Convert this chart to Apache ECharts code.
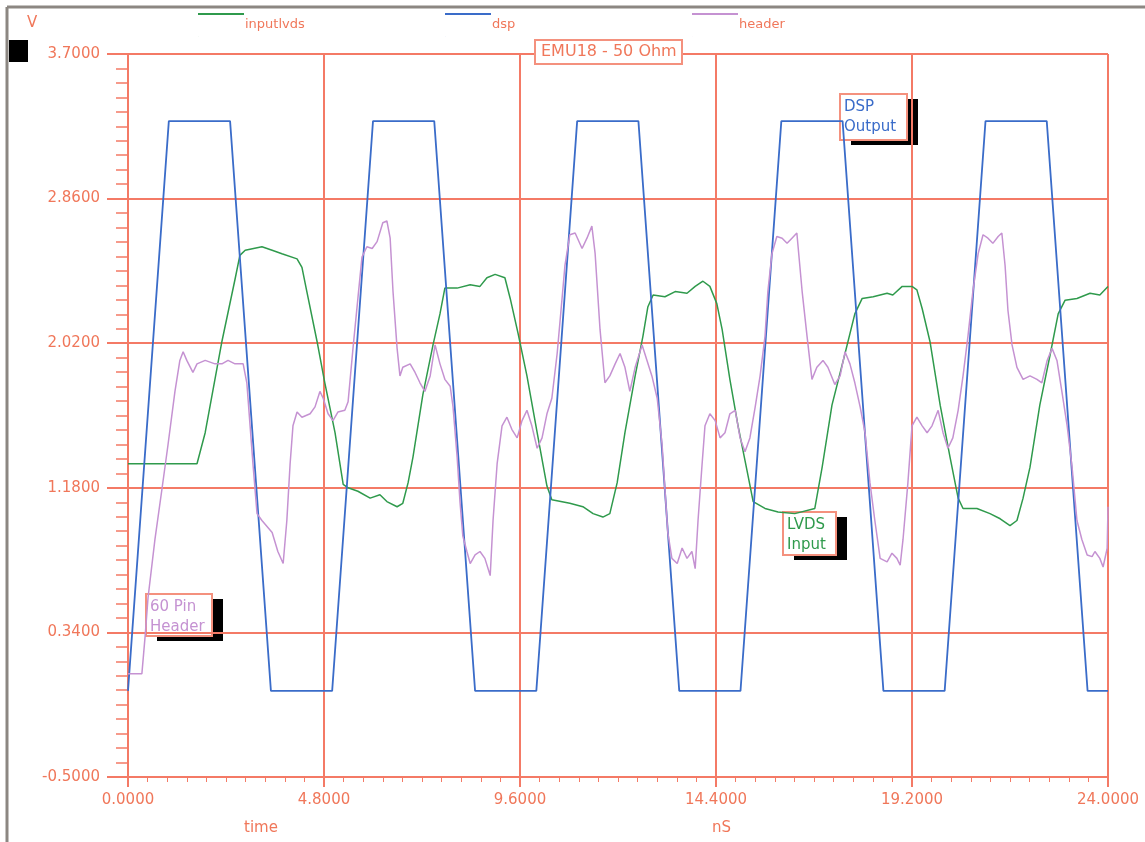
<!DOCTYPE html>
<html>
<head>
<meta charset="utf-8">
<title>EMU18 - 50 Ohm</title>
<script src="https://cdn.jsdelivr.net/npm/echarts@6/dist/echarts.min.js"></script>
<style>
  html, body { margin: 0; padding: 0; background: #fff; }
  #main { width: 1145px; height: 842px; }
</style>
</head>
<body>
<div id="main"></div>
<script>
// time in nS, voltage in V
var dsp = [
  [0, 0], [1.0, 3.31], [2.5, 3.31], [3.5, 0], [5.0, 0],
  [6.0, 3.31], [7.5, 3.31], [8.5, 0], [10.0, 0],
  [11.0, 3.31], [12.5, 3.31], [13.5, 0], [15.0, 0],
  [16.0, 3.31], [17.5, 3.31], [18.5, 0], [20.0, 0],
  [21.0, 3.31], [22.5, 3.31], [23.5, 0], [24.0, 0]
];

var inputlvds = [
  [0, 1.32], [1.69, 1.32], [1.89, 1.50], [2.30, 2.03], [2.62, 2.39], [2.74, 2.53], [2.87, 2.56],
  [3.28, 2.58], [3.53, 2.56], [3.77, 2.54], [4.14, 2.51], [4.26, 2.46], [4.38, 2.32], [4.63, 2.03],
  [4.82, 1.79], [5.07, 1.50], [5.27, 1.20], [5.39, 1.18], [5.63, 1.16], [5.93, 1.12], [6.17, 1.14],
  [6.34, 1.10], [6.59, 1.07], [6.73, 1.09], [6.86, 1.21], [6.98, 1.36], [7.22, 1.72], [7.47, 2.01],
  [7.64, 2.19], [7.76, 2.34], [8.06, 2.34], [8.38, 2.36], [8.62, 2.35], [8.79, 2.40], [8.99, 2.42],
  [9.23, 2.40], [9.36, 2.28], [9.55, 2.08], [9.77, 1.83], [10.02, 1.50], [10.26, 1.19], [10.38, 1.11],
  [10.82, 1.09], [11.14, 1.07], [11.39, 1.03], [11.63, 1.01], [11.80, 1.03], [11.98, 1.21], [12.17, 1.50],
  [12.42, 1.83], [12.61, 2.06], [12.73, 2.23], [12.86, 2.30], [13.15, 2.29], [13.40, 2.32], [13.69, 2.31],
  [13.89, 2.35], [14.08, 2.38], [14.25, 2.35], [14.42, 2.25], [14.55, 2.10], [14.74, 1.81], [14.94, 1.54],
  [15.16, 1.28], [15.31, 1.10], [15.60, 1.06], [15.92, 1.04], [16.33, 1.03], [16.82, 1.06], [17.00, 1.30],
  [17.24, 1.66], [17.56, 1.96], [17.80, 2.19], [17.98, 2.28], [18.25, 2.29], [18.59, 2.31], [18.73, 2.30],
  [18.96, 2.35], [19.20, 2.35], [19.32, 2.33], [19.45, 2.22], [19.64, 2.03], [19.89, 1.66], [20.13, 1.36],
  [20.33, 1.12], [20.45, 1.06], [20.79, 1.06], [21.11, 1.03], [21.36, 1.00], [21.60, 0.96], [21.77, 0.99],
  [21.92, 1.12], [22.09, 1.30], [22.33, 1.66], [22.58, 1.95], [22.78, 2.19], [22.95, 2.27], [23.24, 2.28],
  [23.56, 2.31], [23.80, 2.30], [24.00, 2.35]
];

var header = [
  [0, 0.10], [0.34, 0.10], [0.42, 0.32], [0.49, 0.54], [0.66, 0.88], [0.83, 1.17], [0.98, 1.43],
  [1.15, 1.74], [1.27, 1.92], [1.35, 1.97], [1.44, 1.92], [1.59, 1.85], [1.69, 1.90], [1.89, 1.92],
  [2.13, 1.90], [2.30, 1.90], [2.45, 1.92], [2.62, 1.90], [2.82, 1.90], [2.91, 1.79], [2.99, 1.54],
  [3.06, 1.32], [3.16, 1.03], [3.28, 0.99], [3.53, 0.92], [3.67, 0.81], [3.80, 0.74], [3.89, 0.99],
  [3.97, 1.32], [4.04, 1.54], [4.14, 1.62], [4.26, 1.59], [4.46, 1.61], [4.58, 1.65], [4.70, 1.74],
  [4.78, 1.70], [4.90, 1.61], [5.02, 1.57], [5.14, 1.62], [5.31, 1.63], [5.39, 1.68], [5.51, 1.99],
  [5.63, 2.28], [5.73, 2.52], [5.85, 2.58], [5.98, 2.57], [6.10, 2.61], [6.24, 2.72], [6.34, 2.73],
  [6.42, 2.63], [6.49, 2.32], [6.59, 1.99], [6.66, 1.83], [6.73, 1.88], [6.91, 1.90], [7.03, 1.85],
  [7.15, 1.79], [7.27, 1.74], [7.40, 1.83], [7.52, 2.01], [7.64, 1.90], [7.76, 1.81], [7.89, 1.77],
  [7.96, 1.65], [8.06, 1.36], [8.13, 1.10], [8.20, 0.90], [8.30, 0.81], [8.38, 0.74], [8.50, 0.79],
  [8.62, 0.81], [8.74, 0.77], [8.87, 0.67], [8.94, 0.99], [9.04, 1.32], [9.16, 1.54], [9.28, 1.59],
  [9.40, 1.52], [9.53, 1.47], [9.65, 1.57], [9.77, 1.63], [9.89, 1.54], [10.02, 1.41], [10.14, 1.47],
  [10.26, 1.61], [10.38, 1.70], [10.51, 1.96], [10.63, 2.28], [10.70, 2.47], [10.82, 2.65], [10.95, 2.66],
  [11.12, 2.57], [11.24, 2.63], [11.36, 2.70], [11.44, 2.54], [11.56, 2.10], [11.68, 1.79], [11.80, 1.83],
  [11.93, 1.90], [12.05, 1.96], [12.17, 1.88], [12.29, 1.74], [12.42, 1.88], [12.59, 2.01], [12.71, 1.92],
  [12.83, 1.83], [12.96, 1.70], [13.08, 1.43], [13.15, 1.17], [13.22, 0.92], [13.32, 0.77], [13.45, 0.74],
  [13.57, 0.83], [13.69, 0.77], [13.81, 0.81], [13.89, 0.71], [13.96, 0.99], [14.06, 1.32], [14.13, 1.54],
  [14.25, 1.61], [14.38, 1.57], [14.50, 1.47], [14.62, 1.50], [14.74, 1.61], [14.87, 1.63], [14.99, 1.47],
  [15.11, 1.39], [15.23, 1.47], [15.36, 1.65], [15.48, 1.83], [15.60, 2.06], [15.67, 2.32], [15.77, 2.54],
  [15.89, 2.64], [16.02, 2.63], [16.14, 2.60], [16.26, 2.63], [16.38, 2.66], [16.51, 2.32], [16.63, 2.06],
  [16.75, 1.81], [16.87, 1.88], [17.02, 1.92], [17.14, 1.88], [17.31, 1.78], [17.44, 1.83], [17.56, 1.97],
  [17.68, 1.90], [17.80, 1.79], [17.93, 1.65], [18.05, 1.50], [18.17, 1.21], [18.29, 0.99], [18.42, 0.77],
  [18.59, 0.75], [18.71, 0.80], [18.83, 0.77], [18.91, 0.73], [18.98, 0.88], [19.10, 1.21], [19.20, 1.54],
  [19.32, 1.59], [19.45, 1.54], [19.57, 1.50], [19.69, 1.54], [19.84, 1.63], [19.96, 1.50], [20.08, 1.41],
  [20.20, 1.47], [20.33, 1.63], [20.45, 1.83], [20.57, 2.06], [20.69, 2.32], [20.82, 2.54], [20.94, 2.65],
  [21.06, 2.63], [21.18, 2.60], [21.31, 2.64], [21.40, 2.66], [21.48, 2.47], [21.55, 2.21], [21.65, 2.01],
  [21.77, 1.88], [21.92, 1.81], [22.09, 1.83], [22.26, 1.81], [22.38, 1.79], [22.51, 1.92], [22.63, 1.99],
  [22.75, 1.92], [22.87, 1.74], [23.00, 1.54], [23.12, 1.30], [23.24, 0.99], [23.36, 0.88], [23.49, 0.79],
  [23.61, 0.78], [23.68, 0.81], [23.80, 0.77], [23.88, 0.72], [23.98, 0.83], [24.00, 1.07]
];

var seriesNames = ['inputlvds', 'dsp', 'header'];
var seriesColors = ['#2f9a4c', '#3a6cc9', '#c592d2'];

var gridColor = '#f47a66';
var labelColor = '#f0775a';
var fontFamily = '"DejaVu Sans", "Liberation Sans", sans-serif';

var chartDom = document.getElementById('main');
var myChart = echarts.init(chartDom);

// line icon on top, text below it (like the scope legend)
var legendIcon = 'path://M0,0H46V2H0Z M0,23H0.05V24H0Z';
function makeLegend(name, left) {
  return {
    data: [name],
    left: left,
    top: 8,
    icon: legendIcon,
    itemWidth: 46,
    itemHeight: 26,
    selectedMode: false,
    textStyle: { color: labelColor, fontSize: 13, fontFamily: fontFamily, padding: [0, 0, 0, -4] }
  };
}

function noteBox(x, y, w, h, lines, color) {
  return {
    type: 'group',
    children: [
      { type: 'rect', shape: { x: x + 11, y: y + 5, width: w, height: h }, style: { fill: '#000' } },
      { type: 'rect', shape: { x: x, y: y, width: w, height: h },
        style: { fill: '#fff', stroke: '#f4917e', lineWidth: 2 } },
      { type: 'text', x: x + 4, y: y + 3,
        style: { text: lines, fill: color, fontSize: 15, lineHeight: 20, fontFamily: fontFamily } }
    ]
  };
}

var option = {
  animation: false,
  backgroundColor: '#fff',
  title: {
    text: 'EMU18 - 50 Ohm',
    left: 535,
    top: 40,
    padding: [4, 6, 4, 6],
    backgroundColor: '#fff',
    borderColor: '#f4917e',
    borderWidth: 2,
    textStyle: { color: labelColor, fontSize: 16, fontWeight: 'normal', fontFamily: fontFamily }
  },
  legend: [
    makeLegend('inputlvds', 193),
    makeLegend('dsp', 440),
    makeLegend('header', 687)
  ],
  grid: { left: 128, right: 37, top: 54, bottom: 65 },
  xAxis: {
    type: 'value',
    min: 0,
    max: 24,
    interval: 4.8,
    axisLine: { onZero: false, lineStyle: { color: gridColor, width: 2 } },
    axisTick: { show: true, length: 10, lineStyle: { color: gridColor, width: 2 } },
    minorTick: { show: true, splitNumber: 10, length: 5, lineStyle: { color: gridColor, width: 1 } },
    splitLine: { show: true, lineStyle: { color: gridColor, width: 2 } },
    axisLabel: {
      color: labelColor, fontSize: 15, fontFamily: fontFamily, margin: 16,
      formatter: function (v) { return v.toFixed(4); }
    }
  },
  yAxis: {
    type: 'value',
    min: -0.5,
    max: 3.7,
    interval: 0.84,
    axisLine: { show: true, onZero: false, lineStyle: { color: gridColor, width: 2 } },
    axisTick: { show: true, length: 21, lineStyle: { color: gridColor, width: 2 } },
    minorTick: { show: true, splitNumber: 10, length: 12, lineStyle: { color: gridColor, width: 1.5 } },
    splitLine: { show: true, lineStyle: { color: gridColor, width: 2 } },
    axisLabel: {
      color: labelColor, fontSize: 15, fontFamily: fontFamily, margin: 28,
      formatter: function (v) { return v.toFixed(4); }
    }
  },
  series: [
    { name: seriesNames[0], type: 'line', data: inputlvds, showSymbol: false,
      color: seriesColors[0], lineStyle: { width: 1.5, color: seriesColors[0] } },
    { name: seriesNames[1], type: 'line', data: dsp, showSymbol: false,
      color: seriesColors[1], lineStyle: { width: 1.8, color: seriesColors[1] } },
    { name: seriesNames[2], type: 'line', data: header, showSymbol: false,
      color: seriesColors[2], lineStyle: { width: 1.5, color: seriesColors[2] } }
  ],
  graphic: [
    // window frame
    { type: 'line', shape: { x1: 7, y1: 7, x2: 1145, y2: 7 }, style: { stroke: '#8c8782', lineWidth: 3 } },
    { type: 'line', shape: { x1: 7, y1: 7, x2: 7, y2: 842 }, style: { stroke: '#8c8782', lineWidth: 3 } },
    { type: 'rect', shape: { x: 9, y: 40, width: 19, height: 22 }, style: { fill: '#000' } },
    { type: 'text', x: 27, y: 16, style: { text: 'V', fill: labelColor, fontSize: 15, fontFamily: fontFamily } },
    { type: 'text', x: 244, y: 821, style: { text: 'time', fill: labelColor, fontSize: 15, fontFamily: fontFamily } },
    { type: 'text', x: 712, y: 821, style: { text: 'nS', fill: labelColor, fontSize: 15, fontFamily: fontFamily } },
    noteBox(840, 94, 67, 46, 'DSP\nOutput', seriesColors[1]),
    noteBox(783, 512, 53, 43, 'LVDS\nInput', seriesColors[0]),
    noteBox(146, 594, 66, 42, '60 Pin\nHeader', seriesColors[2])
  ]
};

option && myChart.setOption(option);
</script>
</body>
</html>
